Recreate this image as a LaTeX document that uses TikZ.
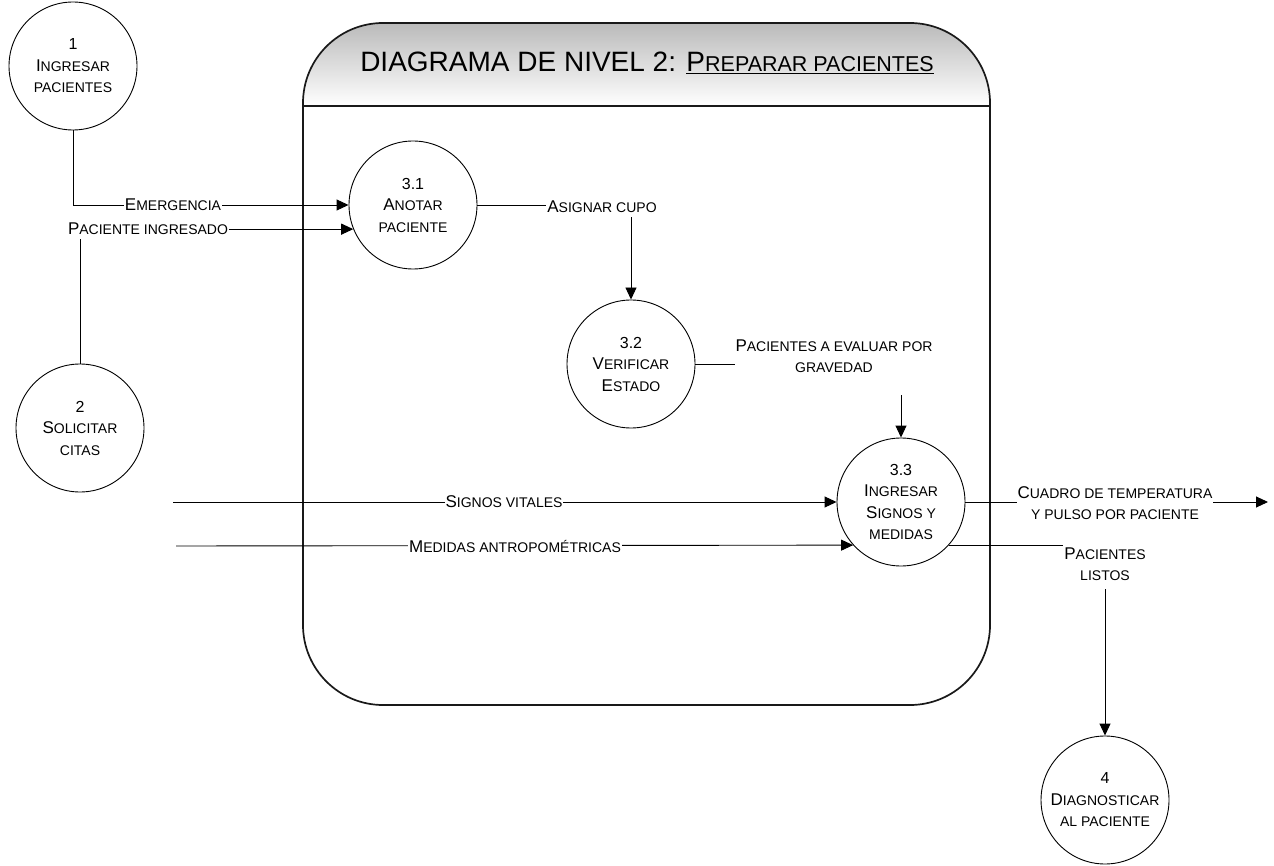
\documentclass[tikz,border=0pt]{standalone}
\usepackage{fontspec}
\setmainfont{Liberation Sans}
\usetikzlibrary{arrows.meta,calc}

% small-caps style lettering: one full capital, then reduced capitals
\newcommand\capA[1]{{\fontsize{17}{21.5}\selectfont #1}}
\newcommand\smA[1]{{\fontsize{14}{21.5}\selectfont #1}}
\newcommand\numA[1]{{\fontsize{16}{21.5}\selectfont #1}}

\tikzset{
  proc/.style={circle, draw=black, line width=0.9pt, fill=white,
    minimum size=128pt, inner sep=0pt, align=center,
    font=\fontsize{14}{21.5}\selectfont},
  lbl/.style={fill=white, inner xsep=1pt, inner ysep=2pt, align=center,
    font=\fontsize{14}{21.5}\selectfont},
  flow/.style={draw=black, line width=0.9pt,
    -{Triangle[length=12pt,width=11pt]}},
  wire/.style={draw=black, line width=0.9pt},
}

\begin{document}
\begin{tikzpicture}[x=1pt, y=-1pt]
\useasboundingbox (0,0) rectangle (1274,866);

% ---- level-2 container ----
\path[top color=black!27, bottom color=white]
  (303,106) [rounded corners=80pt] -- (303,23) -- (990,23)
  [sharp corners] -- (990,106) -- cycle;
\draw[line width=1.7pt, draw=black!90, rounded corners=80pt]
  (303,23) rectangle (990,705);
\draw[line width=1.7pt, draw=black!90] (303,106) -- (990,106);

\node[anchor=base, inner sep=0pt] (title) at (647,72)
  {\fontsize{28}{30}\selectfont DIAGRAMA DE NIVEL 2: \underline{P{\fontsize{21.5}{30}\selectfont REPARAR PACIENTES}}};

% ---- processes ----
\node[proc] (c1)  at (73,66)    {\numA{1}\\\capA{I}\smA{NGRESAR}\\\smA{PACIENTES}};
\node[proc] (c2)  at (80,428)   {\numA{2}\\\capA{S}\smA{OLICITAR}\\\smA{CITAS}};
\node[proc] (c31) at (413,205)  {\numA{3.1}\\\capA{A}\smA{NOTAR}\\\smA{PACIENTE}};
\node[proc] (c32) at (631,364)  {\numA{3.2}\\\capA{V}\smA{ERIFICAR}\\\capA{E}\smA{STADO}};
\node[proc] (c33) at (901,502)  {\numA{3.3}\\\capA{I}\smA{NGRESAR}\\\capA{S}\smA{IGNOS Y}\\\smA{MEDIDAS}};
\node[proc] (c4)  at (1105,800) {\numA{4}\\\capA{D}\smA{IAGNOSTICAR}\\\smA{AL PACIENTE}};

% free ends of the external flows
\coordinate (sv)  at (173,502);
\coordinate (ma)  at (176,546);
\coordinate (out) at (1268,502);

% ---- data flows ----
\draw[flow] (c1.south) |- (c31.west);
\draw[flow] (c2.north) |- (c31.202);
\draw[flow] (c31.east) -| (c32.north);
\draw[flow] (c32.east) -| (c33.north);
\draw[flow] (sv) -- (c33.west);
\draw[flow] (ma) -- (c33.222);
\draw[flow] (c33.east) -- (out);
\draw[flow] (c33.-42) -| (c4.north);

% ---- flow labels ----
\node[lbl] (lem) at (173,205) {\capA{E}\smA{MERGENCIA}};
\node[lbl, inner ysep=4pt] (lpi) at (148,229) {\capA{P}\smA{ACIENTE INGRESADO}};
\node[lbl, inner ysep=4pt] (lac) at (602,207) {\capA{A}\smA{SIGNAR CUPO}};
\node[lbl, inner ysep=22pt] (lpe) at (834,356)
  {\capA{P}\smA{ACIENTES A EVALUAR POR}\\\smA{GRAVEDAD}};
\node[lbl] (lsv) at (504,502) {\capA{S}\smA{IGNOS VITALES}};
\node[lbl] (lma) at (515,546) {\capA{M}\smA{EDIDAS ANTROPOMÉTRICAS}};
\node[lbl] (lcu) at (1115,503)
  {\capA{C}\smA{UADRO DE TEMPERATURA}\\\smA{Y PULSO POR PACIENTE}};
\node[lbl, inner ysep=8pt] (lpl) at (1105,564)
  {\capA{P}\smA{ACIENTES}\\\smA{LISTOS}};
\end{tikzpicture}
\end{document}
